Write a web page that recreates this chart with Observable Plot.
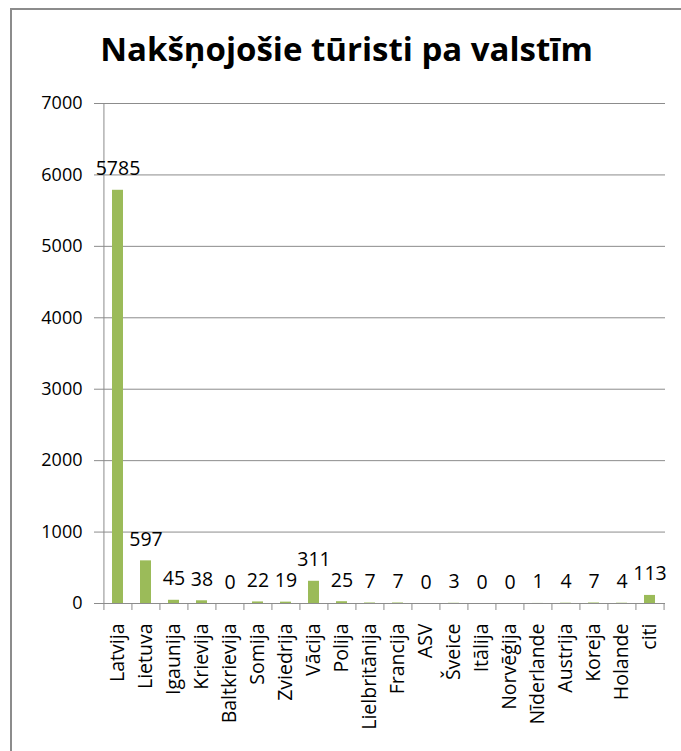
<!DOCTYPE html>
<html>
<head>
<meta charset="utf-8">
<script src="https://cdn.jsdelivr.net/npm/d3@7"></script>
<script src="https://cdn.jsdelivr.net/npm/@observablehq/plot@0.6"></script>
<style>
  html, body { margin: 0; padding: 0; background: #fff; overflow: hidden; }
  #wrap { position: relative; width: 681px; height: 751px; overflow: hidden; background: #fff; }
  #title { height: 90px; box-sizing: border-box; padding-top: 32px; padding-left: 12px;
           text-align: center; font-family: "Open Sans", sans-serif; font-weight: bold; font-size: 33px;
           line-height: 34px; color: #000; white-space: nowrap; }
  #frame { position: absolute; left: 10px; top: 8px; width: 800px; height: 900px;
           border-left: 2px solid #8c8c8c; border-top: 2px solid #8c8c8c; pointer-events: none; }
  #chart svg { display: block; }
</style>
</head>
<body>
<div id="wrap">
  <div id="title">Nakšņojošie tūristi pa valstīm</div>
  <div id="chart"></div>
  <div id="frame"></div>
</div>
<script>
const categories = ["Latvija","Lietuva","Igaunija","Krievija","Baltkrievija","Somija","Zviedrija","Vācija","Polija","Lielbritānija","Francija","ASV","Šveice","Itālija","Norvēģija","Nīderlande","Austrija","Koreja","Holande","citi"];
const values = [5785,597,45,38,0,22,19,311,25,7,7,0,3,0,0,1,4,7,4,113];
const yTicks = [0,1000,2000,3000,4000,5000,6000,7000];

const data = categories.map((c, i) => ({country: c, value: values[i]}));

const W = 681, H = 661;
const mL = 102, mR = 16, mT = 13, mB = 148;
const step = (W - mL - mR) / categories.length;
const grey = "#8c8c8c";

const chart = Plot.plot({
  width: W,
  height: H,
  marginLeft: mL,
  marginRight: mR,
  marginTop: mT,
  marginBottom: mB,
  style: {fontFamily: "'Open Sans', sans-serif", background: "#fff", color: "#000"},
  x: {domain: categories, paddingInner: 0.6, paddingOuter: 0.3, axis: null},
  y: {domain: [0, 7000], axis: null},
  marks: [
    Plot.gridY(yTicks, {stroke: grey, strokeOpacity: 1, strokeWidth: 1}),
    Plot.axisY({ticks: yTicks, tickSize: 8, tickPadding: 12, stroke: grey, strokeOpacity: 1,
                tickFormat: d3.format("d"), fontSize: 18, label: null, fill: "#000"}),
    Plot.ruleX([categories[0]], {x: d => d, y1: 0, y2: 7000, dx: -step / 2, stroke: grey}),
    Plot.ruleY([0], {stroke: grey}),
    Plot.ruleX(categories, {x: d => d, y1: 0, y2: 0, insetBottom: -7, dx: -step / 2, stroke: grey}),
    Plot.ruleX([categories[categories.length - 1]], {x: d => d, y1: 0, y2: 0, insetBottom: -7, dx: step / 2, stroke: grey}),
    Plot.barY(data, {x: "country", y: "value", fill: "#9BBB59"}),
    Plot.text(data, {x: "country", y: "value", text: d => String(d.value), lineAnchor: "bottom",
                     dy: -15, fontSize: 19.5, fill: "#000"}),
    Plot.axisX({tickSize: 0, tickRotate: -90, tickPadding: 20, fontSize: 19.5, label: null, fill: "#000"})
  ]
});
document.getElementById("chart").appendChild(chart);
</script>
</body>
</html>
